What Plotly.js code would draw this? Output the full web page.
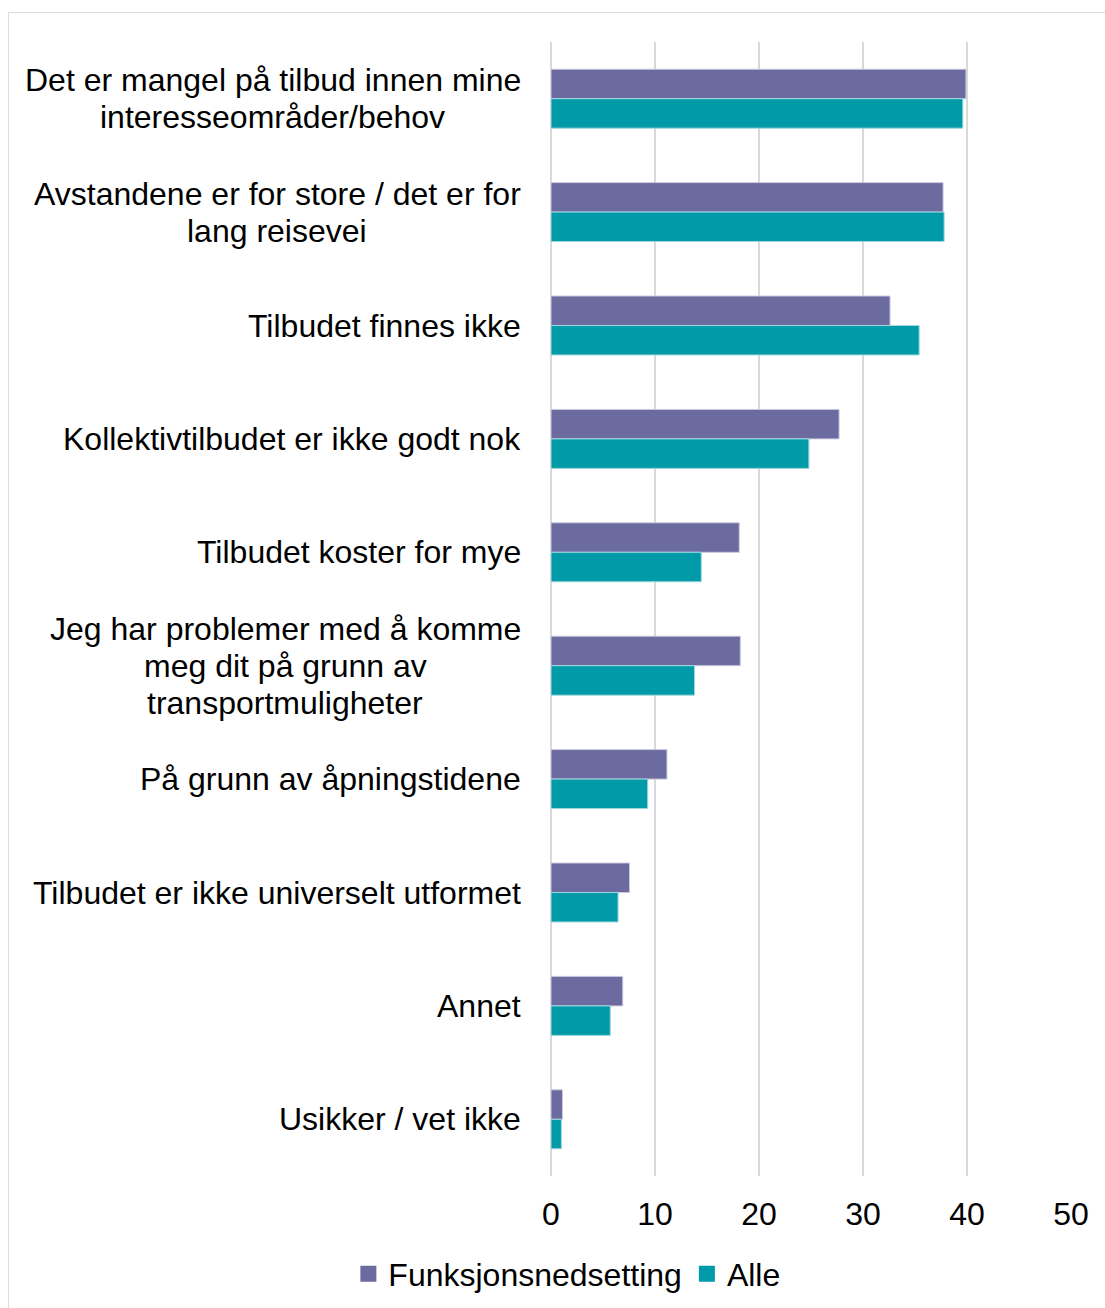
<!DOCTYPE html>
<html>
<head>
<meta charset="utf-8">
<script src="https://cdn.plot.ly/plotly-3.0.1.min.js"></script>
<style>
  html, body { margin: 0; padding: 0; background: #ffffff; overflow: hidden; }
  #frame { position: absolute; left: 8px; top: 12px; width: 1300px; height: 1500px; border: 1.5px solid #dcdcdc; box-sizing: border-box; }
  #chart { position: absolute; left: 0; top: 0; width: 1105px; height: 1308px; }
</style>
</head>
<body>
<div id="frame"></div>
<div id="chart"></div>
<script>
const categories = [
  "Det er mangel på tilbud innen mine<br>interesseområder/behov",
  "Avstandene er for store / det er for<br>lang reisevei",
  "Tilbudet finnes ikke",
  "Kollektivtilbudet er ikke godt nok",
  "Tilbudet koster for mye",
  "Jeg har problemer med å komme<br>meg dit på grunn av<br>transportmuligheter",
  "På grunn av åpningstidene",
  "Tilbudet er ikke universelt utformet",
  "Annet",
  "Usikker / vet ikke"
];
const funksjonsnedsetting = [39.9, 37.7, 32.6, 27.7, 18.1, 18.2, 11.15, 7.55, 6.9, 1.1];
const alle = [39.6, 37.8, 35.4, 24.8, 14.45, 13.8, 9.3, 6.45, 5.7, 1.0];
const seriesNames = ["Funksjonsnedsetting", "Alle"];
const seriesColors = ["#6B6B9F", "#009AA9"];
const xTicks = [0, 10, 20, 30, 40, 50];

const FONT = "Liberation Sans, Arial, sans-serif";
const FS = 32;
const LINE = 37;

const traces = [
  {
    type: "bar", orientation: "h", name: seriesNames[0], showlegend: false,
    y: categories, x: funksjonsnedsetting,
    marker: { color: seriesColors[0], line: { color: "#c9c8e0", width: 1 } }
  },
  {
    type: "bar", orientation: "h", name: seriesNames[1], showlegend: false,
    y: categories, x: alle,
    marker: { color: seriesColors[1], line: { color: "#9fd9df", width: 1 } }
  },
  // legend entries with larger square swatches
  {
    type: "scatter", mode: "markers", name: seriesNames[0], x: [null], y: [null],
    marker: { symbol: "square", size: 17, color: seriesColors[0] }
  },
  {
    type: "scatter", mode: "markers", name: seriesNames[1], x: [null], y: [null],
    marker: { symbol: "square", size: 17, color: seriesColors[1] }
  }
];

const annotations = [];
categories.forEach(c => {
  const lines = c.split("<br>");
  const n = lines.length;
  lines.forEach((ln, i) => {
    annotations.push({
      xref: "paper", yref: "y", x: 0, y: c, xshift: -28,
      yshift: ((n - 1) / 2 - i) * LINE,
      xanchor: "right", yanchor: "middle", align: "center",
      text: ln, showarrow: false,
      font: { family: FONT, size: FS, color: "#000000" }
    });
  });
});
// center multi-line labels: shift shorter lines toward the centre of the longest line
// (done by measuring after render)

const layout = {
  width: 1105, height: 1308,
  paper_bgcolor: "rgba(0,0,0,0)",
  plot_bgcolor: "rgba(0,0,0,0)",
  margin: { l: 551, r: 34, t: 42, b: 132 },
  barmode: "group",
  bargap: 0.48,
  bargroupgap: 0,
  showlegend: true,
  legend: {
    orientation: "h", xref: "container", yref: "container",
    x: 0.513, xanchor: "center", y: 0.026, yanchor: "middle",
    font: { family: FONT, size: FS, color: "#000000" },
    itemwidth: 30, tracegroupgap: 0, traceorder: "normal"
  },
  xaxis: {
    range: [0, 50], tickvals: xTicks, ticktext: xTicks.map(String),
    showgrid: true, gridcolor: "#d9d9d9", gridwidth: 1.5,
    zeroline: true, zerolinecolor: "#d9d9d9", zerolinewidth: 1.5,
    showline: false, ticks: "", ticklabelstandoff: 16,
    tickfont: { family: FONT, size: FS, color: "#000000" },
    fixedrange: true
  },
  yaxis: {
    type: "category", autorange: "reversed",
    showticklabels: false, showgrid: false, zeroline: false, showline: false,
    ticks: "", fixedrange: true
  },
  annotations: annotations
};

// measure text widths so that lines of a multi-line label are centred on each other
function measure(text) {
  const cv = document.createElement("canvas").getContext("2d");
  cv.font = FS + "px " + FONT;
  return cv.measureText(text).width;
}
let idx = 0;
categories.forEach(c => {
  const lines = c.split("<br>");
  const widths = lines.map(measure);
  const maxW = Math.max(...widths);
  lines.forEach((ln, i) => {
    annotations[idx].xshift = -28 - (maxW - widths[i]) / 2;
    idx++;
  });
});

Plotly.newPlot("chart", traces, layout, { displayModeBar: false, staticPlot: true });
</script>
</body>
</html>
